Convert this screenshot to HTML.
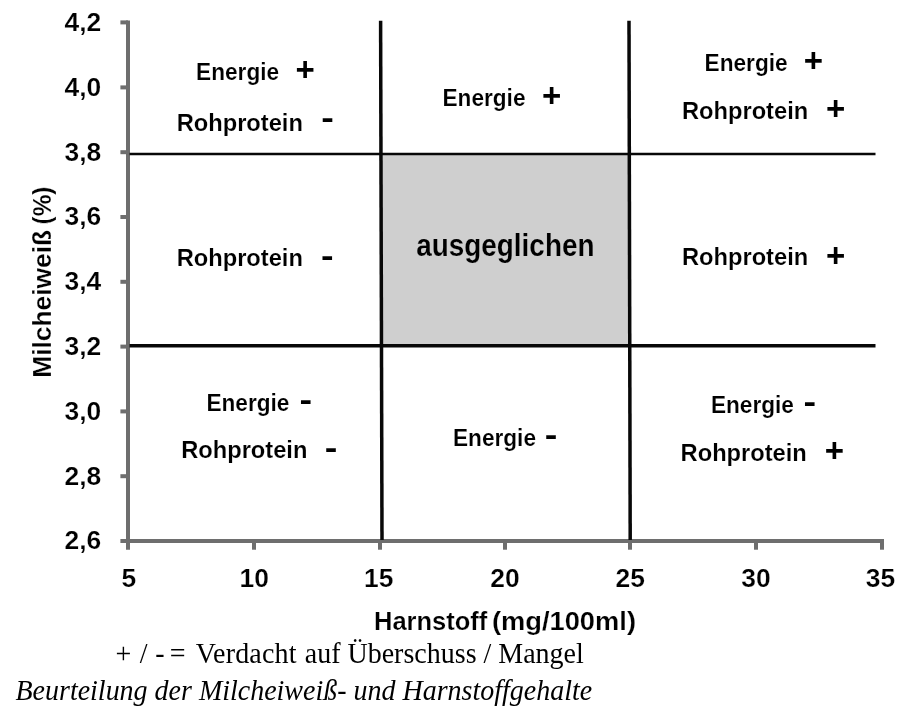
<!DOCTYPE html>
<html lang="de">
<head>
<meta charset="utf-8">
<title>Beurteilung der Milcheiweiß- und Harnstoffgehalte</title>
<style>
html,body{margin:0;padding:0;background:#fff;}
body{width:913px;height:714px;overflow:hidden;}
svg{display:block;}
.b{font-family:"Liberation Sans",sans-serif;font-weight:bold;fill:#000;}
.t{stroke:#fff;stroke-width:0.2;}
.t2{stroke:#fff;stroke-width:0.15;}
.tg{stroke:#cfcfcf;stroke-width:0.2;}
.s{font-family:"Liberation Serif",serif;fill:#000;}
.i{font-family:"Liberation Serif",serif;font-style:italic;fill:#000;}
</style>
</head>
<body>
<svg width="913" height="714" viewBox="0 0 913 714">
<rect width="913" height="714" fill="#fff"/>
<!-- balanced zone -->
<rect x="381" y="154" width="249" height="192" fill="#cfcfcf"/>
<!-- axes -->
<g stroke="#6e6e6e" stroke-width="4" fill="none">
<line x1="128" y1="20.4" x2="128" y2="549.7"/>
<line x1="120.4" y1="541" x2="884" y2="541"/>
<line x1="120.4" y1="22.4" x2="128" y2="22.4"/>
<line x1="120.4" y1="87.4" x2="128" y2="87.4"/>
<line x1="120.4" y1="152.2" x2="128" y2="152.2"/>
<line x1="120.4" y1="217.0" x2="128" y2="217.0"/>
<line x1="120.4" y1="281.8" x2="128" y2="281.8"/>
<line x1="120.4" y1="346.6" x2="128" y2="346.6"/>
<line x1="120.4" y1="411.4" x2="128" y2="411.4"/>
<line x1="120.4" y1="476.2" x2="128" y2="476.2"/>
<line x1="254" y1="541" x2="254" y2="549.7"/>
<line x1="380" y1="541" x2="380" y2="549.7"/>
<line x1="505" y1="541" x2="505" y2="549.7"/>
<line x1="630" y1="541" x2="630" y2="549.7"/>
<line x1="756" y1="541" x2="756" y2="549.7"/>
<line x1="882" y1="541" x2="882" y2="549.7"/>
</g>
<!-- division lines -->
<g stroke="#080808" fill="none">
<line x1="129.5" y1="154" x2="875.5" y2="154" stroke-width="2.6"/>
<line x1="129.5" y1="345.8" x2="875.5" y2="345.8" stroke-width="3.6"/>
<line x1="380.6" y1="20.7" x2="382" y2="540" stroke-width="3.5"/>
<line x1="629" y1="20.8" x2="630.2" y2="540" stroke-width="3.5"/>
</g>
<!-- y labels -->
<g class="b t" font-size="26.4" text-anchor="end">
<text x="101.2" y="31.0">4,2</text>
<text x="101.2" y="95.8">4,0</text>
<text x="101.2" y="160.6">3,8</text>
<text x="101.2" y="225.4">3,6</text>
<text x="101.2" y="290.2">3,4</text>
<text x="101.2" y="355.0">3,2</text>
<text x="101.2" y="419.8">3,0</text>
<text x="101.2" y="484.6">2,8</text>
<text x="101.2" y="549.4">2,6</text>
</g>
<!-- x labels -->
<g class="b t" font-size="26.4" text-anchor="middle">
<text x="128.9" y="587">5</text>
<text x="254.2" y="587">10</text>
<text x="378.8" y="587">15</text>
<text x="505" y="587">20</text>
<text x="630.2" y="587">25</text>
<text x="756" y="587">30</text>
<text x="880.4" y="587">35</text>
</g>
<!-- axis titles -->
<text class="b t" font-size="26.4" y="629.6"><tspan x="374" textLength="113.3" lengthAdjust="spacingAndGlyphs">Harnstoff</tspan> <tspan x="491.9" textLength="144.1" lengthAdjust="spacingAndGlyphs">(mg/100ml)</tspan></text>
<text class="b t" font-size="26.4" transform="translate(51.3 377.8) rotate(-90)"><tspan x="0" textLength="147.9" lengthAdjust="spacingAndGlyphs">Milcheiweiß</tspan> <tspan x="153.4" textLength="37.9" lengthAdjust="spacingAndGlyphs">(%)</tspan></text>
<!-- cell labels -->
<g class="b t2" font-size="23">
<text x="196.1" y="80.3" textLength="83" lengthAdjust="spacingAndGlyphs">Energie</text>
<text x="442.5" y="106.0" textLength="83" lengthAdjust="spacingAndGlyphs">Energie</text>
<text x="704.6" y="71.3" textLength="83" lengthAdjust="spacingAndGlyphs">Energie</text>
<text x="206.4" y="411.1" textLength="83" lengthAdjust="spacingAndGlyphs">Energie</text>
<text x="453.0" y="445.9" textLength="83" lengthAdjust="spacingAndGlyphs">Energie</text>
<text x="710.9" y="413.3" textLength="83" lengthAdjust="spacingAndGlyphs">Energie</text>
<text x="176.7" y="131.0" textLength="126.2" lengthAdjust="spacingAndGlyphs">Rohprotein</text>
<text x="682.0" y="119.0" textLength="126.2" lengthAdjust="spacingAndGlyphs">Rohprotein</text>
<text x="176.7" y="265.8" textLength="126.2" lengthAdjust="spacingAndGlyphs">Rohprotein</text>
<text x="682.0" y="265.3" textLength="126.2" lengthAdjust="spacingAndGlyphs">Rohprotein</text>
<text x="181.2" y="458.4" textLength="126.2" lengthAdjust="spacingAndGlyphs">Rohprotein</text>
<text x="680.6" y="461.0" textLength="126.2" lengthAdjust="spacingAndGlyphs">Rohprotein</text>
</g>
<text class="b tg" font-size="31.4" x="416.2" y="255.5" textLength="178.3" lengthAdjust="spacingAndGlyphs">ausgeglichen</text>
<!-- plus / minus marks -->
<g class="b" font-size="33" text-anchor="middle">
<text x="305.1" y="80.8">+</text>
<text x="551.7" y="106.5">+</text>
<text x="813.5" y="72.1">+</text>
<text x="835.6" y="119.6">+</text>
<text x="835.6" y="266.6">+</text>
<text x="834.5" y="461.6">+</text>
</g>
<g class="b" font-size="31" text-anchor="middle">
<text transform="translate(327.6 128.2) scale(1.22 1)">-</text>
<text transform="translate(327.4 265.6) scale(1.22 1)">-</text>
<text transform="translate(305.8 409.8) scale(1.22 1)">-</text>
<text transform="translate(331.1 457.9) scale(1.22 1)">-</text>
<text transform="translate(551.1 445.0) scale(1.22 1)">-</text>
<text transform="translate(809.9 412.2) scale(1.22 1)">-</text>
</g>
<!-- caption -->
<text class="s" font-size="28" x="115.6" y="0" transform="translate(0 662.9) scale(1 1.035)">+ <tspan dx="1.3">/</tspan> <tspan dx="0.7">-</tspan> <tspan dx="-1.8">=</tspan> <tspan dx="3.3" letter-spacing="0.18">Verdacht</tspan> <tspan dx="1">auf</tspan> Überschuss / Mangel</text>
<text class="i" font-size="28" x="15.5" y="0" transform="translate(0 699.7) scale(1 1.04)">Beurteilung der Milcheiweiß- und Harnstoffgehalte</text>
</svg>
</body>
</html>
